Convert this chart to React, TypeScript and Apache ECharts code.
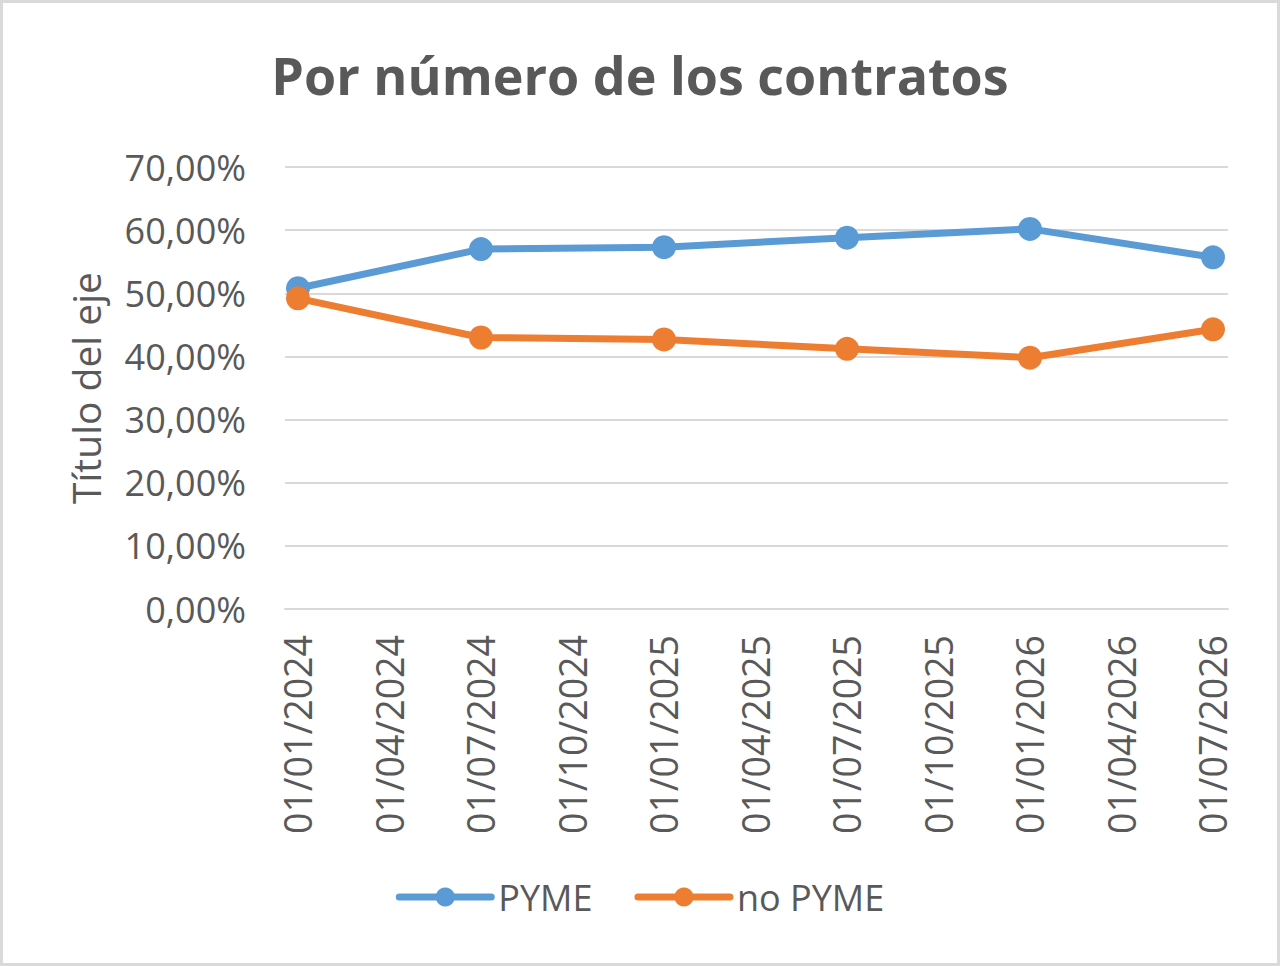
import React, { useEffect, useRef } from "react";
import * as echarts from "echarts";

const tickLabels = [
  "01/01/2024", "01/04/2024", "01/07/2024", "01/10/2024",
  "01/01/2025", "01/04/2025", "01/07/2025", "01/10/2025",
  "01/01/2026", "01/04/2026", "01/07/2026",
];
const pointDates = ["01/01/2024", "01/07/2024", "01/01/2025", "01/07/2025", "01/01/2026", "01/07/2026"];
const pymeValues = [50.8, 57.0, 57.3, 58.8, 60.2, 55.7];
const noPymeValues = [49.2, 43.0, 42.7, 41.2, 39.8, 44.3];
const yTicks = [0, 10, 20, 30, 40, 50, 60, 70];

const FONT = "'Open Sans', 'Noto Sans', sans-serif";
const GRAY = "#595959";

export default function App() {
  const ref = useRef<HTMLDivElement>(null);
  useEffect(() => {
    document.body.style.margin = "0";
    if (!ref.current) return;
    const chart = echarts.init(ref.current, null, { renderer: "svg" });
    const toPairs = (vals: number[]) => vals.map((v, i) => [tickLabels.indexOf(pointDates[i]), v]);
    const fmtPct = (v: number) => v.toFixed(2).replace(".", ",") + "%";
    chart.setOption({
      animation: false,
      backgroundColor: "#ffffff",
      title: {
        text: "Por número de los contratos",
        left: "center",
        top: 43,
        textStyle: { fontFamily: FONT, fontSize: 52, fontWeight: "bold", color: GRAY },
      },
      graphic: [
        {
          type: "rect",
          shape: { x: 1.5, y: 1.5, width: 1277, height: 963 },
          style: { fill: "none", stroke: "#d9d9d9", lineWidth: 3 },
          silent: true,
        },
      ],
      legend: {
        bottom: 46,
        left: "center",
        itemWidth: 92,
        itemHeight: 24,
        itemGap: 42,
        lineStyle: { width: 7, cap: "round" },
        textStyle: { fontFamily: FONT, fontSize: 36, color: GRAY, padding: [0, 0, 0, 2] },
        data: ["PYME", "no PYME"],
      },
      grid: { left: 285, right: 52, top: 167, bottom: 357, containLabel: false },
      xAxis: {
        type: "value",
        min: -0.142,
        max: 10.164,
        axisLine: { show: true, lineStyle: { color: "#d9d9d9", width: 2 } },
        axisTick: { show: false },
        splitLine: { show: false },
        axisLabel: {
          customValues: tickLabels.map((_, i) => i),
          formatter: (v: number) => tickLabels[Math.round(v)] ?? "",
          rotate: 90,
          margin: 26,
          fontFamily: FONT,
          fontSize: 37.5,
          color: GRAY,
        },
      },
      yAxis: {
        type: "value",
        min: 0,
        max: 70,
        interval: 10,
        name: "Título del eje",
        nameLocation: "middle",
        nameGap: 180,
        nameTextStyle: { fontFamily: FONT, fontSize: 39, color: GRAY },
        axisLine: { show: false },
        axisTick: { show: false },
        splitLine: { show: true, lineStyle: { color: "#d9d9d9", width: 2 } },
        axisLabel: {
          formatter: (v: number) => (yTicks.includes(v) ? fmtPct(v) : ""),
          margin: 39,
          fontFamily: FONT,
          fontSize: 36,
          color: GRAY,
        },
      },
      series: [
        {
          name: "PYME",
          type: "line",
          data: toPairs(pymeValues),
          symbol: "circle",
          symbolSize: 24,
          lineStyle: { width: 7, color: "#5B9BD5", cap: "round" },
          itemStyle: { color: "#5B9BD5" },
        },
        {
          name: "no PYME",
          type: "line",
          data: toPairs(noPymeValues),
          symbol: "circle",
          symbolSize: 24,
          lineStyle: { width: 7, color: "#ED7D31", cap: "round" },
          itemStyle: { color: "#ED7D31" },
        },
      ],
    });
    return () => chart.dispose();
  }, []);
  return <div ref={ref} style={{ width: 1280, height: 966 }} />;
}
